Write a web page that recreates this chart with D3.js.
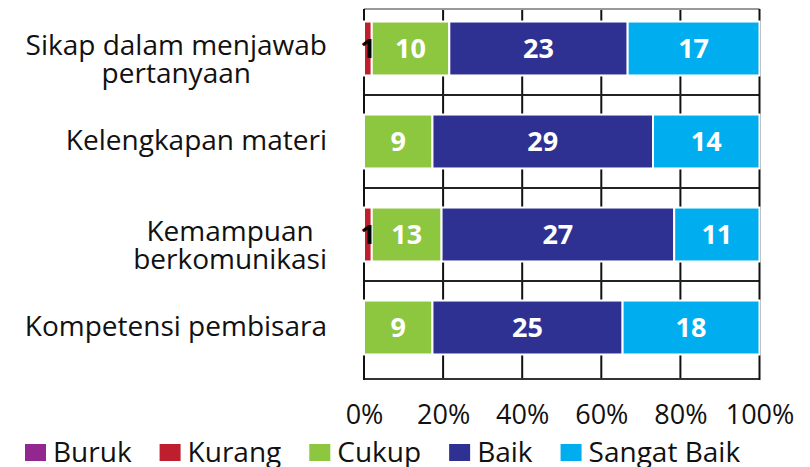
<!DOCTYPE html>
<html>
<head>
<meta charset="utf-8">
<script src="https://cdn.jsdelivr.net/npm/d3@7"></script>
<style>
    body { margin: 0; background: #fff; }
    text { font-family: "Open Sans", sans-serif; }
</style>
</head>
<body>
<svg id="chart" width="810" height="467"></svg>
<script>
// categories, one array of text lines per row
const categories = ['Sikap dalam menjawab pertanyaan', 'Kelengkapan materi', 'Kemampuan berkomunikasi', 'Kompetensi pembisara'];
const categoryLines = [['Sikap dalam menjawab', 'pertanyaan'], ['Kelengkapan materi'], ['Kemampuan', 'berkomunikasi'], ['Kompetensi pembisara']];

const seriesNames = ['Buruk', 'Kurang', 'Cukup', 'Baik', 'Sangat Baik'];
const seriesColors = ['#92278f', '#be1e2d', '#8dc63f', '#2e3192', '#00aeef'];

// segment lengths as drawn
const buruk = [0, 0, 0, 0];
const kurang = [1, 0, 1, 0];
const cukup = [10, 9, 9, 9];
const baik = [23, 29, 30, 25];
const sangatBaik = [17, 14, 11, 18];

// numbers printed on the segments (row 3 is printed differently from its lengths)
const burukLabels = [0, 0, 0, 0];
const kurangLabels = [1, 0, 1, 0];
const cukupLabels = [10, 9, 13, 9];
const baikLabels = [23, 29, 27, 25];
const sangatBaikLabels = [17, 14, 11, 18];

const tickValues = [0, 0.2, 0.4, 0.6, 0.8, 1];

const valueCols = [buruk, kurang, cukup, baik, sangatBaik];
const labelCols = [burukLabels, kurangLabels, cukupLabels, baikLabels, sangatBaikLabels];

const rows = categories.map((c, i) => {
    let row = {category: c};
    seriesNames.forEach((s, j) => { row[s] = valueCols[j][i]; });
    return row;
});

const svg = d3.select('#chart');
const fontSize = 28;

let x = d3.scaleLinear().domain([0, 1]).range([364, 759.5]);
let y = d3.scaleBand().domain(categories).range([2, 374]).paddingInner(0.42).paddingOuter(0.21);

const plotTop = 9, plotBottom = 379;

// vertical grid
svg.append('g')
    .selectAll('line')
    .data(tickValues.slice(1, -1))
    .enter().append('line')
    .attr('x1', d => x(d)).attr('x2', d => x(d))
    .attr('y1', plotTop).attr('y2', plotBottom)
    .attr('stroke', '#111').attr('stroke-width', 2);

// horizontal separators between rows
svg.append('g')
    .selectAll('line')
    .data(categories.slice(1))
    .enter().append('line')
    .attr('x1', x(0)).attr('x2', x(1))
    .attr('y1', d => y(d) - y.step() * y.paddingInner() / 2)
    .attr('y2', d => y(d) - y.step() * y.paddingInner() / 2)
    .attr('stroke', '#222').attr('stroke-width', 2);

// frame
svg.append('line').attr('x1', x(0)).attr('x2', x(1)).attr('y1', plotTop).attr('y2', plotTop)
    .attr('stroke', '#999').attr('stroke-width', 2);
svg.append('line').attr('x1', x(0)).attr('x2', x(1)).attr('y1', plotBottom).attr('y2', plotBottom)
    .attr('stroke', '#333').attr('stroke-width', 2);
svg.append('line').attr('x1', x(0)).attr('x2', x(0)).attr('y1', plotTop).attr('y2', plotBottom + 1)
    .attr('stroke', '#111').attr('stroke-width', 2);
svg.append('line').attr('x1', x(1)).attr('x2', x(1)).attr('y1', plotTop).attr('y2', plotBottom + 1)
    .attr('stroke', '#111').attr('stroke-width', 2);

// stacked bars
let stacked = d3.stack().keys(seriesNames).offset(d3.stackOffsetExpand)(rows);

let layers = svg.append('g')
    .selectAll('g')
    .data(stacked)
    .enter().append('g')
    .attr('fill', (d, i) => seriesColors[i]);

layers.selectAll('rect')
    .data(d => d.filter(p => p[1] - p[0] > 0))
    .enter().append('rect')
    .attr('x', d => x(d[0]))
    .attr('width', d => x(d[1]) - x(d[0]))
    .attr('y', d => y(d.data.category))
    .attr('height', y.bandwidth())
    .attr('stroke', '#fff')
    .attr('stroke-width', 2);

// value labels
let labelData = [];
stacked.forEach((layer, j) => {
    layer.forEach((p, i) => {
        if (p[1] - p[0] > 0) {
            labelData.push({x0: p[0], x1: p[1], category: p.data.category, text: labelCols[j][i]});
        }
    });
});

svg.append('g')
    .selectAll('text')
    .data(labelData)
    .enter().append('text')
    .attr('x', d => (x(d.x0) + x(d.x1)) / 2)
    .attr('y', d => y(d.category) + y.bandwidth() / 2)
    .attr('dy', '0.36em')
    .attr('text-anchor', 'middle')
    .style('font-size', '27px')
    .style('font-weight', 'bold')
    .style('fill', d => x(d.x1) - x(d.x0) < 20 ? '#000' : '#fff')
    .text(d => d.text);

// category labels, lines centred on each other, block right-aligned
const labelRight = 327;
const lineHeight = 28;
categories.forEach((c, i) => {
    let lines = categoryLines[i];
    let g = svg.append('g');
    let texts = g.selectAll('text')
        .data(lines)
        .enter().append('text')
        .style('font-size', fontSize + 'px')
        .style('fill', '#111')
        .attr('text-anchor', 'middle')
        .text(d => d);
    let widest = d3.max(texts.nodes(), n => n.getComputedTextLength());
    let cy = y(c) + y.bandwidth() / 2 + (lines.length > 1 ? 10 : -2);
    texts.attr('x', labelRight - widest / 2)
        .attr('y', (d, k) => cy + (k - (lines.length - 1) / 2) * lineHeight)
        .attr('dy', '0.36em');
});

// x axis
let xAxis = d3.axisBottom(x)
    .tickValues(tickValues)
    .tickFormat(d3.format('.0%'))
    .tickSize(0)
    .tickPadding(0);

let axisG = svg.append('g')
    .attr('transform', 'translate(0,405)')
    .call(xAxis);
axisG.select('.domain').remove();
axisG.selectAll('text')
    .style('font-family', '"Open Sans", sans-serif')
    .style('font-size', '27px')
    .attr('fill', '#111');

// legend
let legend = svg.append('g');
let lx = 25;
seriesNames.forEach((name, i) => {
    legend.append('rect')
        .attr('x', lx).attr('y', 444)
        .attr('width', 21).attr('height', 17)
        .attr('fill', seriesColors[i]);
    let t = legend.append('text')
        .attr('x', lx + 28).attr('y', 462)
        .style('font-size', fontSize + 'px')
        .style('fill', '#111')
        .text(name);
    lx += 28 + t.node().getComputedTextLength() + 28;
});
</script>
</body>
</html>
